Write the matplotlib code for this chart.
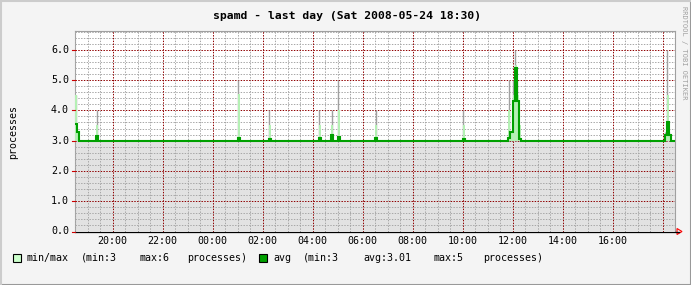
import numpy as np
import matplotlib
matplotlib.use("Agg")
import matplotlib.pyplot as plt
from matplotlib.patches import Rectangle, Polygon
from matplotlib.lines import Line2D

# ---------------- data ----------------
title = "spamd - last day (Sat 2008-05-24 18:30)"
start_clock = "18:30"          # window start (previous day), 24 h window
baseline = 3.0                 # processes most of the time
# 5-minute samples that deviate from the baseline (slot start time)
spike_times = ["18:30", "18:35", "19:20", "01:00", "02:15", "04:15", "04:45",
               "05:00", "06:30", "10:00", "11:50", "11:55", "12:00", "12:05",
               "12:10", "12:15", "18:05", "18:10", "18:15"]
spike_max   = [4.5, 3.3, 4.0, 5.0, 4.0, 4.0, 4.0,
               5.0, 4.0, 4.0, 5.0, 3.3, 5.0, 6.0,
               5.0, 3.5, 3.3, 6.0, 3.3]
spike_upper = [4.5, 3.3, 3.5, 4.55, 3.5, 3.5, 3.5,
               4.0, 3.5, 3.5, 4.0, 3.3, 4.5, 5.5,
               4.5, 3.5, 3.2, 4.5, 3.2]
spike_avg   = [3.55, 3.3, 3.15, 3.1, 3.05, 3.08, 3.17,
               3.12, 3.08, 3.05, 3.1, 3.3, 4.3, 5.4,
               4.3, 3.05, 3.2, 3.6, 3.2]
xtick_labels = ["20:00", "22:00", "00:00", "02:00", "04:00", "06:00",
                "08:00", "10:00", "12:00", "14:00", "16:00"]
ytick_values = [0.0, 1.0, 2.0, 3.0, 4.0, 5.0, 6.0]
legend_minmax = ["min/max", "(min:3", "max:6", "processes)"]
legend_avg = ["avg", "(min:3", "avg:3.01", "max:5", "processes)"]

# ---------------- helpers ----------------
def hours_since_start(clock):
    hh, mm = map(int, clock.split(":"))
    sh, sm = map(int, start_clock.split(":"))
    return ((hh * 60 + mm) - (sh * 60 + sm)) % 1440 / 60.0

W, H = 691, 285
fig = plt.figure(figsize=(W / 100, H / 100), dpi=100, facecolor="#f4f4f4")

def fx(x):
    return x / W

def fy(y):
    return 1 - y / H

# plot area: x 75..675, y 31..231.5
L, R, T, B = 75, 675, 31, 231.5
ax = fig.add_axes([fx(L), fy(B), (R - L) / W, (B - T) / H])
ax.set_facecolor("white")
YMAX = 6.62
ax.set_xlim(0, 24)
ax.set_ylim(0, YMAX)

# 5-minute sample series
step = 1 / 12
edges = np.arange(0, 24 + step / 2, step)
n = len(edges) - 1
avg = np.full(n, baseline)
upper = np.full(n, baseline)
mx = np.full(n, baseline)
for t, m, u, a in zip(spike_times, spike_max, spike_upper, spike_avg):
    i = int(round(hours_since_start(t) / step))
    avg[i] = a
    upper[i] = u
    mx[i] = m

mono = "DejaVu Sans Mono"

# grey base area 0..min
ax.fill_between([0, 24], 0, baseline, color="#e2e2e2", lw=0, zorder=1)

# grid
minor_dash = (0, (1.4, 1.4))
major_dash = (0, (1.4, 1.4))
for k in range(0, 49):
    xv = k * 0.5
    if (xv - 1.5) % 2 == 0:
        continue
    ax.axvline(xv, color="#a8a8a8", lw=0.72, ls=minor_dash, zorder=3)
for k in range(0, 34):
    yv = k * 0.2
    if abs(yv - round(yv)) < 1e-6 or yv > YMAX:
        continue
    ax.axhline(yv, color="#a8a8a8", lw=0.72, ls=minor_dash, zorder=3)
for k in range(12):
    ax.axvline(1.5 + 2 * k, color="#900000", lw=0.72, ls=major_dash, zorder=3.2)
for yv in ytick_values[1:]:
    ax.axhline(yv, color="#900000", lw=0.72, ls=major_dash, zorder=3.2)

# max spikes (grey lines)
for i in range(n):
    if mx[i] > baseline:
        xc = edges[i] + step * 0.35
        ax.vlines(xc, baseline, mx[i], color="#a0a0a0", lw=1.0, zorder=3.5)
# min/max light green area
ax.stairs(upper, edges, baseline=baseline, fill=True, color="#b4f0b4",
          lw=0, zorder=3.6)

# avg line
ax.stairs(avg, edges, baseline=None, color="#00a000", lw=1.5, zorder=4)

# frame
for s in ["top", "left", "right"]:
    ax.spines[s].set_color("#a0a0a0")
    ax.spines[s].set_linewidth(0.8)
ax.spines["bottom"].set_visible(False)
ax.set_xticks([])
ax.set_yticks([])

# x axis line + arrow
fig.add_artist(Line2D([fx(L), fx(679)], [fy(B), fy(B)], color="black", lw=0.9))
fig.add_artist(Polygon([[fx(677), fy(B - 3)], [fx(677), fy(B + 3)],
                        [fx(682), fy(B)]], closed=True, fill=False,
                       edgecolor="red", lw=0.8))
# red major ticks on left
for yv in ytick_values:
    ypx = B - yv * (B - T) / YMAX
    fig.add_artist(Line2D([fx(72), fx(L)], [fy(ypx), fy(ypx)], color="#cc0000", lw=0.8))

# tick labels
for yv in ytick_values:
    ypx = B - yv * (B - T) / YMAX
    fig.text(fx(69), fy(ypx), f"{yv:.1f}", ha="right", va="center",
             fontsize=7.2, family=mono, color="black")
for k, lab in enumerate(xtick_labels):
    xpx = L + (1.5 + 2 * k) * 25
    fig.text(fx(xpx), fy(241), lab, ha="center", va="center",
             fontsize=7.2, family=mono, color="black")

# title, y label, watermark
fig.text(fx(347), fy(16), title, ha="center", va="center", fontsize=8.2,
         family=mono, weight="bold", color="black")
fig.text(fx(13), fy(132), "processes", rotation=90, ha="center", va="center",
         fontsize=7.2, family=mono, color="black")
fig.text(fx(684), fy(6), "RRDTOOL / TOBI OETIKER", rotation=-90, ha="center",
         va="top", fontsize=5.0, family=mono, color="#a0a0a0")

# legend
ly = 258
fig.add_artist(Rectangle((fx(12.5), fy(262)), 8 / W, 8 / H, facecolor="#ccffcc",
                         edgecolor="black", lw=0.8))
for txt, xpx in zip(legend_minmax, [27, 81, 140, 187]):
    fig.text(fx(xpx), fy(ly), txt, ha="left", va="center", fontsize=7.2,
             family=mono, color="black")
fig.add_artist(Rectangle((fx(259), fy(262)), 8 / W, 8 / H, facecolor="#00a000",
                         edgecolor="black", lw=0.8))
for txt, xpx in zip(legend_avg, [273, 303, 363, 434, 483]):
    fig.text(fx(xpx), fy(ly), txt, ha="left", va="center", fontsize=7.2,
             family=mono, color="black")

# outer 3D-ish border
fig.add_artist(Line2D([0, 1], [fy(284.5), fy(284.5)], color="#999999", lw=1.5))
fig.add_artist(Line2D([fx(690.5), fx(690.5)], [0, 1], color="#999999", lw=1.5))
fig.add_artist(Line2D([fx(0.5), fx(0.5)], [0, 1], color="#cccccc", lw=1.5))
fig.add_artist(Line2D([0, 1], [fy(0.5), fy(0.5)], color="#cccccc", lw=1.5))

fig.savefig("out.png", dpi=100, facecolor=fig.get_facecolor())
